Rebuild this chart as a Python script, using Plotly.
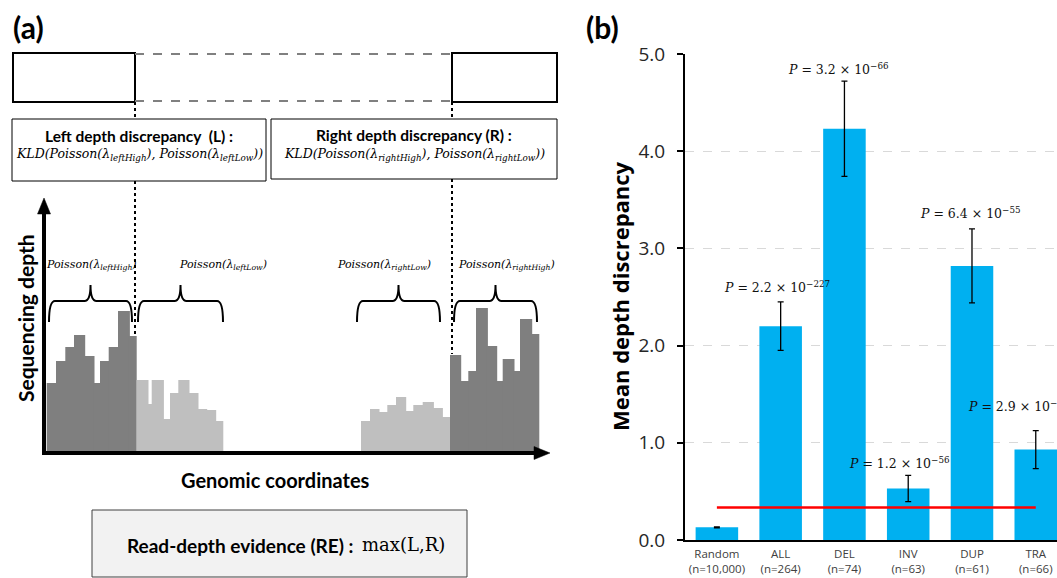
import plotly.graph_objects as go

# ---------------- data: panel (b) ----------------
categories = ["Random", "ALL", "DEL", "INV", "DUP", "TRA"]
sample_sizes = ["10,000", "264", "74", "63", "61", "66"]
mean_discrepancy = [0.13, 2.20, 4.23, 0.53, 2.82, 0.93]
error_half = [0.005, 0.25, 0.49, 0.135, 0.38, 0.195]
threshold = 0.335
p_mantissa = ["2.2", "3.2", "1.2", "6.4", "2.9"]
p_exponent = ["227", "66", "56", "55", "59"]
p_category = ["ALL", "DEL", "INV", "DUP", "TRA"]
y_ticks = [0, 1, 2, 3, 4, 5]

# ---------------- data: panel (a) schematic depth histograms ----------------
left_high_edges = [46.7, 56, 65.3, 74, 84, 93.3, 100, 108.7, 118, 128.7, 136.7]
left_high_depth = [68, 90, 104, 116, 95, 68, 90, 104, 140, 115]
left_low_edges = [136.7, 147.3, 151.7, 162.7, 170, 178.3, 188.3, 197.3, 206, 215, 223.3]
left_low_depth = [71, 47, 71, 32, 58, 71, 58, 42, 41, 30]
right_low_edges = [361, 370, 378.3, 387.3, 396, 405, 413.3, 422.7, 432.7, 441.7, 450]
right_low_depth = [30, 42, 39, 46, 54, 40, 46, 49, 43, 34]
right_high_edges = [450, 460, 468.3, 476, 486.7, 496, 502.7, 513.3, 520, 531, 539.3]
right_high_depth = [96, 70, 80, 143, 105, 70, 92, 80, 132, 117]

W, H = 1057, 578
DARK = "#7f7f7f"
LIGHT = "#bfbfbf"
BLUE = "#00b0f0"
SERIF = "DejaVu Serif"
SANS_B = "Lato"

fig = go.Figure()


def hist_trace(edges, depth, color):
    n = len(depth)
    centers = [(edges[i] + edges[i + 1]) / 2 for i in range(n)]
    # slight overlap between neighbouring bins so no seams show
    widths = [edges[i + 1] - edges[i] + (1.2 if i < n - 1 else 0) for i in range(n)]
    centers = [c + (0.6 if i < n - 1 else 0) for i, c in enumerate(centers)]
    return go.Bar(x=centers, y=depth, width=widths, marker=dict(color=color, line=dict(width=0)),
                  xaxis="x3", yaxis="y3", showlegend=False, hoverinfo="skip")


fig.add_trace(hist_trace(left_high_edges, left_high_depth, DARK))
fig.add_trace(hist_trace(left_low_edges, left_low_depth, LIGHT))
fig.add_trace(hist_trace(right_low_edges, right_low_depth, LIGHT))
fig.add_trace(hist_trace(right_high_edges, right_high_depth, DARK))

# ---------------- panel (b) traces ----------------
xpos = list(range(len(categories)))
fig.add_trace(go.Bar(
    x=xpos, y=mean_discrepancy, width=0.667,
    marker=dict(color=BLUE, line=dict(width=0)),
    error_y=dict(type="data", array=error_half, color="black", thickness=1.3, width=3),
    showlegend=False, xaxis="x", yaxis="y"))
fig.add_trace(go.Scatter(
    x=[xpos[0], xpos[-1]], y=[threshold, threshold], mode="lines",
    line=dict(color="#ff0000", width=2.5), showlegend=False, xaxis="x", yaxis="y"))

shapes = []
ann = []


def pline(x0, y0, x1, y1, color="black", width=2, dash="solid"):
    shapes.append(dict(type="line", xref="x2", yref="y2", x0=x0, y0=y0, x1=x1, y1=y1,
                       line=dict(color=color, width=width, dash=dash)))


def prect(x0, y0, x1, y1, color="black", width=1, fill="rgba(0,0,0,0)"):
    shapes.append(dict(type="rect", xref="x2", yref="y2", x0=x0, y0=y0, x1=x1, y1=y1,
                       line=dict(color=color, width=width), fillcolor=fill))


def ppath(path, fill=None, width=2):
    d = dict(type="path", xref="x2", yref="y2", path=path, line=dict(color="black", width=width))
    if fill:
        d["fillcolor"] = fill
        d["line"] = dict(color=fill, width=0.5)
    shapes.append(d)


def brace(x0, x1, ytip=285, ymid=301, yend=322):
    xm = (x0 + x1) / 2
    r = 6
    p = (f"M {x0},{yend} Q {x0},{ymid} {x0 + r},{ymid} L {xm - r},{ymid} "
         f"Q {xm},{ymid} {xm},{ytip} Q {xm},{ymid} {xm + r},{ymid} "
         f"L {x1 - r},{ymid} Q {x1},{ymid} {x1},{yend}")
    ppath(p)


def ptext(x, y, text, size, family, color="black", xanchor="center", angle=0):
    ann.append(dict(x=x, y=y, xref="x2", yref="y2", text=text, showarrow=False,
                    xanchor=xanchor, yanchor="middle", textangle=angle,
                    font=dict(size=size, family=family, color=color)))


# top: breakpoint boxes
prect(13, 53, 135, 102, width=2)
prect(452, 53, 557, 102, width=2)
pline(135, 54, 452, 54, color="#808080", width=2, dash="dash")
pline(135, 101, 452, 101, color="#808080", width=2, dash="dash")

# dotted breakpoint lines
pline(135, 102, 135, 119, width=2, dash="dot")
pline(135, 181, 135, 335, width=2, dash="dot")
pline(452, 102, 452, 119, width=2, dash="dot")
pline(452, 179, 452, 354, width=2, dash="dot")

# text boxes
prect(12, 119, 266, 181, width=1)
prect(271, 119, 557, 179, width=1)
ptext(139, 136, "<b>Left depth discrepancy  (L) :</b>", 15.5, SANS_B)
ptext(139, 154, "<i>KLD(Poisson(λ<sub>leftHigh</sub>), Poisson(λ<sub>leftLow</sub>))</i>", 12.5, SERIF)
ptext(414, 135, "<b>Right depth discrepancy (R) :</b>", 15.5, SANS_B)
ptext(414, 154, "<i>KLD(Poisson(λ<sub>rightHigh</sub>), Poisson(λ<sub>rightLow</sub>))</i>", 12.5, SERIF)

# axes arrows
pline(44, 455, 44, 210, width=4)
ppath("M 37.5,214 L 50.5,214 L 44,198 Z", fill="black")
pline(42, 453, 536, 453, width=4)
ppath("M 534,446.5 L 534,459.5 L 550,453 Z", fill="black")

# braces + labels
brace(49, 132)
brace(138, 223)
brace(357, 440)
brace(454, 537)
ptext(91, 265, "<i>Poisson(λ<sub>leftHigh</sub>)</i>", 11, SERIF)
ptext(223, 265, "<i>Poisson(λ<sub>leftLow</sub>)</i>", 11, SERIF)
ptext(384, 265, "<i>Poisson(λ<sub>rightLow</sub>)</i>", 11, SERIF)
ptext(506, 265, "<i>Poisson(λ<sub>rightHigh</sub>)</i>", 11, SERIF)

ptext(25, 318, "<b>Sequencing depth</b>", 21, SANS_B, angle=-90)
ptext(275, 480, "<b>Genomic coordinates</b>", 20, SANS_B)

# bottom RE box
prect(92, 510, 467, 577, color="#404040", width=1, fill="#f2f2f2")
ptext(355, 545, "<b>Read-depth evidence (RE) :</b>", 19, SANS_B, xanchor="right")
ptext(360, 544, "max(L,R)", 18, SERIF, xanchor="left")

# panel labels
ann.append(dict(x=11 / W, y=1 - 27 / H, xref="paper", yref="paper", text="<b>(a)</b>", showarrow=False,
                xanchor="left", yanchor="middle", font=dict(size=30, family=SANS_B, color="black")))
ann.append(dict(x=584 / W, y=1 - 27 / H, xref="paper", yref="paper", text="<b>(b)</b>", showarrow=False,
                xanchor="left", yanchor="middle", font=dict(size=30, family=SANS_B, color="black")))

# panel (b) y title
ann.append(dict(x=620 / W, y=1 - 296 / H, xref="paper", yref="paper", text="<b>Mean depth discrepancy</b>",
                showarrow=False, textangle=-90, xanchor="center", yanchor="middle",
                font=dict(size=22, family="Open Sans", color="black")))

# P-value annotations (placed above bars, positions in data coords)
p_pos = {"ALL": (0.94, 2.60, "center"), "DEL": (1.90, 4.85, "center"), "INV": (2.87, 0.79, "center"),
         "DUP": (3.97, 3.36, "center"), "TRA": (3.90, 1.38, "left")}
for cat, m, e in zip(p_category, p_mantissa, p_exponent):
    x, y, xa = p_pos[cat]
    ann.append(dict(x=x, y=y, xref="x", yref="y", showarrow=False, xanchor=xa, yanchor="middle",
                    text=f"<i>P</i> = {m} × 10<sup>−{e}</sup>",
                    font=dict(size=12.5, family=SERIF, color="#111111")))

fig.update_layout(
    width=W, height=H, margin=dict(l=0, r=0, t=0, b=0, autoexpand=False),
    paper_bgcolor="white", plot_bgcolor="rgba(0,0,0,0)",
    barmode="overlay", showlegend=False,
    shapes=shapes, annotations=ann,
    xaxis=dict(domain=[685 / W, 1.0], range=[-0.5, 5.333], anchor="y", automargin=False,
               tickvals=xpos, ticktext=[f"{c}<br>(n={n})" for c, n in zip(categories, sample_sizes)],
               showline=True, linecolor="black", linewidth=2, ticks="", showgrid=False, zeroline=False,
               ticklabelstandoff=2,
               tickfont=dict(size=11.5, family="Open Sans", color="#404040")),
    yaxis=dict(domain=[(H - 540) / H, (H - 54) / H], range=[0, 5], anchor="x", automargin=False,
               tickvals=y_ticks, tickformat=".1f",
               showline=True, linecolor="black", linewidth=2,
               ticks="outside", ticklen=6, tickwidth=2, tickcolor="black",
               showgrid=True, gridcolor="#d9d9d9", griddash="dash", gridwidth=1, zeroline=False,
               ticklabelstandoff=8,
               tickfont=dict(size=19, family="Open Sans", color="#262626")),
    xaxis2=dict(domain=[0, 580 / W], range=[0, 580], visible=False, anchor="y2", automargin=False),
    yaxis2=dict(domain=[0, 1], range=[H, 0], visible=False, anchor="x2", automargin=False),
    xaxis3=dict(domain=[0, 580 / W], range=[0, 580], visible=False, anchor="y3", automargin=False),
    yaxis3=dict(domain=[(H - 451) / H, (H - 200) / H], range=[0, 251], visible=False, anchor="x3",
                automargin=False),
)

fig.write_html("out.html", config={"displayModeBar": False})
